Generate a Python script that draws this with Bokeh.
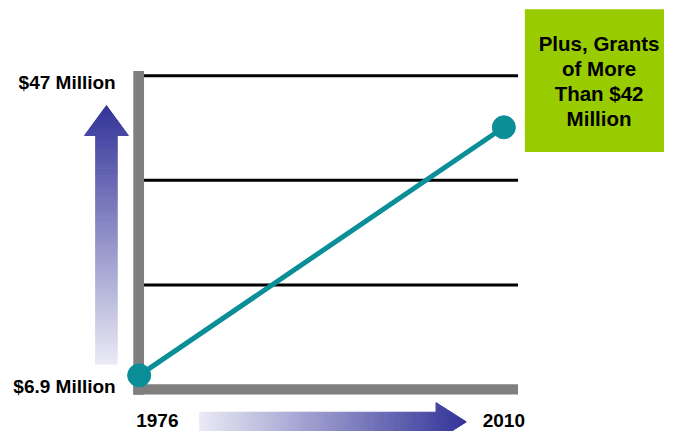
import numpy as np
from bokeh.plotting import figure
from bokeh.models import Range1d, Label
from bokeh.embed import file_html
from bokeh.resources import INLINE

# ---- data ----
years = [1976, 2010]
values = [6.9, 40.1]          # $ million
grid_values = [19, 33, 47]
baseline = 5
y_labels = ["$47 Million", "$6.9 Million"]
x_labels = ["1976", "2010"]
note_lines = ["Plus, Grants", "of More", "Than $42", "Million"]

# ---- layout ----
W, H = 664, 431
REF_W, REF_H = 680, 447
PX_PER_YEAR = 10.985      # in reference pixels
PX_PER_UNIT = 7.75
X0 = 1976 - 142 / PX_PER_YEAR
X1 = X0 + REF_W / PX_PER_YEAR
Y1 = 47 + 78 / PX_PER_UNIT
Y0 = Y1 - REF_H / PX_PER_UNIT
S = W / REF_W


def ix(px):
    return X0 + px / PX_PER_YEAR


def iy(py):
    return Y1 - py / PX_PER_UNIT


def fs(px):
    return "%.1fpx" % (px * S)


FONT = "Liberation Sans"
DARK = (51, 51, 153)
LIGHT = (234, 234, 245)


def lerp(c0, c1, t):
    t = min(max(t, 0.0), 1.0)
    return "#%02x%02x%02x" % tuple(int(round(a + (b - a) * t)) for a, b in zip(c0, c1))


p = figure(width=W, height=H, x_range=Range1d(X0, X1), y_range=Range1d(Y0, Y1),
           output_backend="svg", toolbar_location=None, min_border=0,
           x_axis_type=None, y_axis_type=None, outline_line_color=None)
p.grid.visible = False
p.background_fill_color = "white"
p.border_fill_color = "white"

# ---- gradient arrows ----
cx, tip, hb, bot, hw, sw = 108.5, 109, 140, 377, 22.5, 11


def wup(py):
    return hw * (py - tip) / (hb - tip) if py <= hb else sw


br = list(np.linspace(tip, hb, 16)) + list(np.linspace(hb, bot, 120))[1:]
xs, ys, cols = [], [], []
for a, b in zip(br[:-1], br[1:]):
    wa = sw if a >= hb else wup(a)
    wb = sw if a >= hb else wup(b)
    xs.append([ix(cx - wa), ix(cx + wa), ix(cx + wb), ix(cx - wb)])
    ys.append([iy(a), iy(a), iy(b), iy(b)])
    cols.append(lerp(DARK, LIGHT, ((a + b) / 2 - tip) / (bot - tip)))
p.patches(xs, ys, fill_color=cols, line_color=cols, line_width=1)

cy, left, hbx, tipx, shh, hh = 437, 204, 446, 477, 10, 20


def wr(px):
    return shh if px < hbx else hh * (tipx - px) / (tipx - hbx)


br = list(np.linspace(left, hbx, 120)) + list(np.linspace(hbx, tipx, 16))[1:]
xs, ys, cols = [], [], []
for a, b in zip(br[:-1], br[1:]):
    wa = shh if a < hbx else wr(a)
    wb = shh if a < hbx else wr(b)
    xs.append([ix(a), ix(b), ix(b), ix(a)])
    ys.append([iy(cy - wa), iy(cy - wb), iy(cy + wb), iy(cy + wa)])
    cols.append(lerp(LIGHT, DARK, ((a + b) / 2 - left) / (tipx - left)))
p.patches(xs, ys, fill_color=cols, line_color=cols, line_width=1)

# ---- grid lines ----
x_grid_end = ix(530)
for g in grid_values:
    p.line([years[0], x_grid_end], [g, g], line_color="black", line_width=3)

# ---- axes (thick gray bars) ----
p.quad(left=[ix(136)], right=[ix(147)], bottom=[iy(409)], top=[iy(73)],
       fill_color="#7f7f7f", line_color=None)
p.quad(left=[ix(136)], right=[x_grid_end], bottom=[iy(408.5)], top=[iy(398)],
       fill_color="#7f7f7f", line_color=None)

# ---- data line ----
p.line(years, values, line_color="#0a8e98", line_width=5)
p.scatter(years, values, size=23, fill_color="#0a8e98", line_color="#0a8e98")

# ---- green note box ----
p.quad(left=[ix(537)], right=[ix(700)], bottom=[iy(157)], top=[iy(9)],
       fill_color="#99cc00", line_color=None)
for i, t in enumerate(note_lines):
    p.add_layout(Label(x=ix(613), y=iy(45 + 25.8 * i), text=t, text_font=FONT,
                       text_font_style="bold", text_font_size=fs(21),
                       text_align="center", text_baseline="middle", text_color="black"))

# ---- axis text ----
p.add_layout(Label(x=ix(118), y=iy(85), text=y_labels[0], text_font=FONT,
                   text_font_style="bold", text_font_size=fs(19.5),
                   text_align="right", text_baseline="middle", text_color="black"))
p.add_layout(Label(x=ix(118), y=iy(400), text=y_labels[1], text_font=FONT,
                   text_font_style="bold", text_font_size=fs(19.5),
                   text_align="right", text_baseline="middle", text_color="black"))
p.add_layout(Label(x=ix(139), y=iy(436), text=x_labels[0], text_font=FONT,
                   text_font_style="bold", text_font_size=fs(19.5),
                   text_align="left", text_baseline="middle", text_color="black"))
p.add_layout(Label(x=years[1], y=iy(436), text=x_labels[1], text_font=FONT,
                   text_font_style="bold", text_font_size=fs(19.5),
                   text_align="center", text_baseline="middle", text_color="black"))

open("out.html", "w").write(file_html(p, INLINE))
